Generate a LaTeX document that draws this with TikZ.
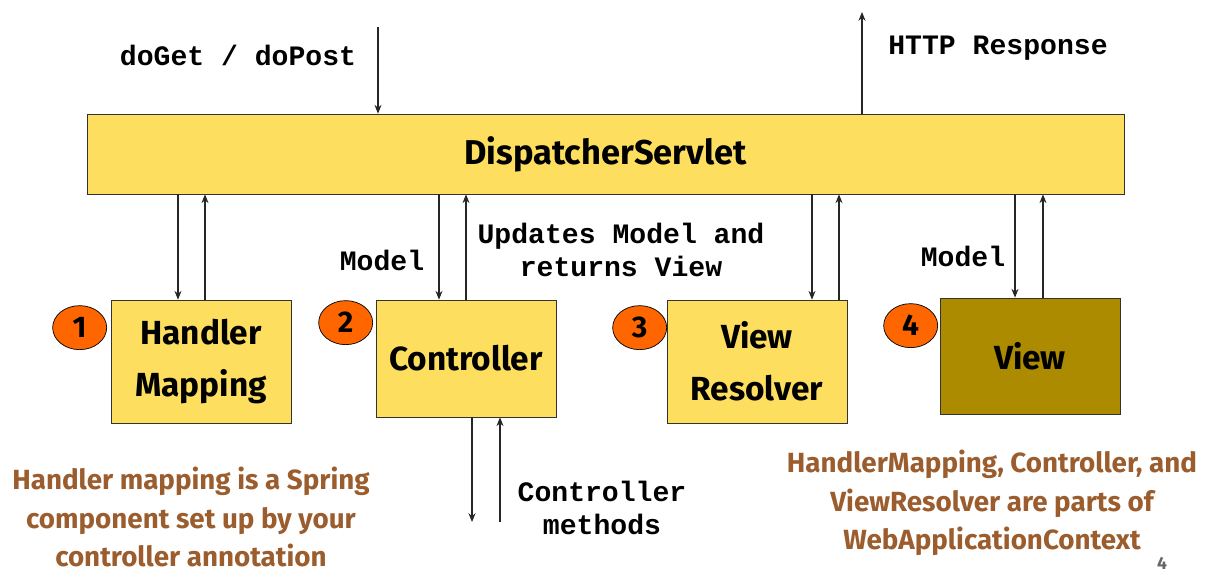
\documentclass[tikz,border=0pt]{standalone}
\usepackage{fontspec}
\setmainfont{Fira Sans}
\newfontfamily\codefont{Liberation Mono}
\usetikzlibrary{positioning, arrows.meta, shapes.geometric}

\definecolor{boxyellow}{RGB}{253,222,94}
\definecolor{viewgold}{RGB}{173,139,0}
\definecolor{numorange}{RGB}{255,102,0}
\definecolor{notebrown}{RGB}{155,93,45}

\begin{document}
\begin{tikzpicture}[x=0.02cm, y=-0.02cm, >={Stealth[length=5pt,width=4pt]},
    part/.style={draw=black!80, fill=boxyellow, minimum width=3.6cm,
                 minimum height=2.46cm, align=center,
                 font=\bfseries\fontsize{19}{29.5}\selectfont},
    num/.style={ellipse, draw, fill=numorange, minimum width=1.08cm,
                minimum height=0.88cm, inner sep=0pt,
                font=\bfseries\fontsize{17}{20}\selectfont},
    code/.style={font=\codefont\bfseries\fontsize{16}{19.3}\selectfont, align=center},
    note/.style={text=notebrown, align=center, inner sep=2pt,
                 font=\bfseries\fontsize{15.8}{22}\selectfont},
    flow/.style={->, draw=black!85, line width=0.6pt}]

  \useasboundingbox (0,0) rectangle (1217,573);

  % servlet bar and the four parts
  \node[part, minimum width=20.74cm, minimum height=1.6cm,
        font=\bfseries\fontsize{19.6}{22}\selectfont] (disp) at (605.5,154) {DispatcherServlet};
  \node[part] (hm) at (201,361.5) {Handler\\Mapping};
  \node[part, minimum height=2.34cm] (ctrl) at (466,358.5) {Controller};
  \node[part] (vr) at (757,361.5) {View\\Resolver};
  \node[part, fill=viewgold, minimum height=2.32cm] (view) at (1030,356) {View};

  % step numbers
  \node[num] (n1) at ([xshift=-0.62cm,yshift=-0.56cm]hm.north west) {1};
  \node[num] (n2) at ([xshift=-0.6cm,yshift=-0.46cm]ctrl.north west) {2};
  \node[num] (n3) at ([xshift=-0.54cm,yshift=-0.56cm]vr.north west) {3};
  \node[num] (n4) at ([xshift=-0.58cm,yshift=-0.56cm]view.north west) {4};

  % request in, response out
  \node[code] (req) at (238,55) {doGet / doPost};
  \node[code] (resp) at (998,48) {HTTP Response};
  \coordinate (reqtop) at (378,27);
  \coordinate (resptop) at (862,12);
  \draw[flow] (reqtop) -- (reqtop |- disp.north);
  \draw[flow] (resptop |- disp.north) -- (resptop);

  % down/up pairs between servlet and parts
  \foreach \blk/\dn/\up in {hm/-0.46/0.08, ctrl/-0.54/0, vr/1.1/1.64, view/-0.3/0.26} {
    \draw[flow] ([xshift=\dn cm]\blk.north |- disp.south) -- ([xshift=\dn cm]\blk.north);
    \draw[flow] ([xshift=\up cm]\blk.north) -- ([xshift=\up cm]\blk.north |- disp.south);
  }

  \node[code] (m1) at (382,260) {Model};
  \node[code] (upd) at (621,250) {Updates Model and\\returns View};
  \node[code] (m2) at (963,256) {Model};

  % controller methods
  \coordinate (callend) at (472,522);
  \draw[flow] ([xshift=0.12cm]ctrl.south) -- ([xshift=0.12cm]ctrl.south |- callend);
  \draw[flow] ([xshift=0.68cm]ctrl.south |- callend) -- ([xshift=0.68cm]ctrl.south);
  \node[code] (meth) at (602,508) {Controller\\methods};

  % notes
  \node[note] (note1) at (191,517) {Handler mapping is a Spring\\component set up by your\\controller annotation};
  \node[note] (note2) at (992,503) {HandlerMapping, Controller, and\\ViewResolver are parts of\\WebApplicationContext};
  \node[text=black!60, font=\bfseries\fontsize{10}{11}\selectfont] (pg) at (1162,563) {4};
\end{tikzpicture}
\end{document}
